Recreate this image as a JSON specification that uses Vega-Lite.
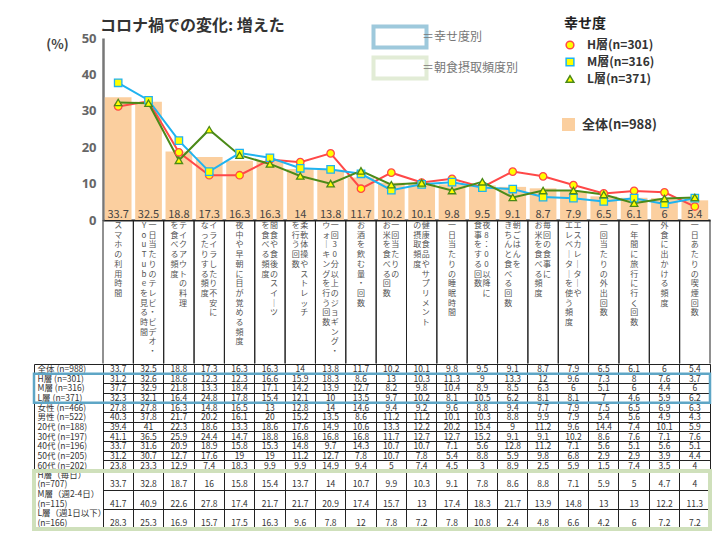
{
  "$schema": "https://vega.github.io/schema/vega-lite/v6.json",
  "padding": {"left": 31, "top": 17, "right": 0, "bottom": 0},
  "spacing": 0,
  "bounds": "flush",
  "datasets": {
    "tbl": [
      {"r":"全体 (n=988)","c":"スマホの利用時間","v":33.7},{"r":"全体 (n=988)","c":"一日当たりのテレビ・ビデオ・YouTubeを見る時間","v":32.5},{"r":"全体 (n=988)","c":"テイクアウトの料理を食べる頻度","v":18.8},{"r":"全体 (n=988)","c":"イライラしたり不安になったりする頻度","v":17.3},{"r":"全体 (n=988)","c":"夜中や早朝に目が覚める頻度","v":16.3},{"r":"全体 (n=988)","c":"間食や食後のスイーツを食べる頻度","v":16.3},{"r":"全体 (n=988)","c":"柔軟体操やストレッチを行う回数","v":14},{"r":"全体 (n=988)","c":"一回30分以上のジョギング・ウォーキングを行う回数","v":13.8},{"r":"全体 (n=988)","c":"お酒を飲む量・回数","v":11.7},{"r":"全体 (n=988)","c":"一回当たりのお米を食べる回数","v":10.2},{"r":"全体 (n=988)","c":"健康食品やサプリメントの摂取頻度","v":10.1},{"r":"全体 (n=988)","c":"一日当たりの睡眠時間","v":9.8},{"r":"全体 (n=988)","c":"夜8：00以降に食事をする回数","v":9.5},{"r":"全体 (n=988)","c":"朝ごはんをきちんと食べる回数","v":9.1},{"r":"全体 (n=988)","c":"毎回の食事にお米を食べる頻度","v":8.7},{"r":"全体 (n=988)","c":"エスカレーターやエレベーターを使う頻度","v":7.9},{"r":"全体 (n=988)","c":"一回当たりの外出回数","v":6.5},{"r":"全体 (n=988)","c":"一年間に旅行に行く回数","v":6.1},{"r":"全体 (n=988)","c":"外食に出かける頻度","v":6},{"r":"全体 (n=988)","c":"一日あたりの喫煙回数","v":5.4},
      {"r":"H層 (n=301)","c":"スマホの利用時間","v":31.2},{"r":"H層 (n=301)","c":"一日当たりのテレビ・ビデオ・YouTubeを見る時間","v":32.6},{"r":"H層 (n=301)","c":"テイクアウトの料理を食べる頻度","v":18.6},{"r":"H層 (n=301)","c":"イライラしたり不安になったりする頻度","v":12.3},{"r":"H層 (n=301)","c":"夜中や早朝に目が覚める頻度","v":12.3},{"r":"H層 (n=301)","c":"間食や食後のスイーツを食べる頻度","v":16.6},{"r":"H層 (n=301)","c":"柔軟体操やストレッチを行う回数","v":15.9},{"r":"H層 (n=301)","c":"一回30分以上のジョギング・ウォーキングを行う回数","v":18.3},{"r":"H層 (n=301)","c":"お酒を飲む量・回数","v":8.6},{"r":"H層 (n=301)","c":"一回当たりのお米を食べる回数","v":13},{"r":"H層 (n=301)","c":"健康食品やサプリメントの摂取頻度","v":10.3},{"r":"H層 (n=301)","c":"一日当たりの睡眠時間","v":11.3},{"r":"H層 (n=301)","c":"夜8：00以降に食事をする回数","v":9},{"r":"H層 (n=301)","c":"朝ごはんをきちんと食べる回数","v":13.3},{"r":"H層 (n=301)","c":"毎回の食事にお米を食べる頻度","v":12},{"r":"H層 (n=301)","c":"エスカレーターやエレベーターを使う頻度","v":9.6},{"r":"H層 (n=301)","c":"一回当たりの外出回数","v":7.3},{"r":"H層 (n=301)","c":"一年間に旅行に行く回数","v":8},{"r":"H層 (n=301)","c":"外食に出かける頻度","v":7.6},{"r":"H層 (n=301)","c":"一日あたりの喫煙回数","v":3.7},
      {"r":"M層 (n=316)","c":"スマホの利用時間","v":37.7},{"r":"M層 (n=316)","c":"一日当たりのテレビ・ビデオ・YouTubeを見る時間","v":32.9},{"r":"M層 (n=316)","c":"テイクアウトの料理を食べる頻度","v":21.8},{"r":"M層 (n=316)","c":"イライラしたり不安になったりする頻度","v":13.3},{"r":"M層 (n=316)","c":"夜中や早朝に目が覚める頻度","v":18.4},{"r":"M層 (n=316)","c":"間食や食後のスイーツを食べる頻度","v":17.1},{"r":"M層 (n=316)","c":"柔軟体操やストレッチを行う回数","v":14.2},{"r":"M層 (n=316)","c":"一回30分以上のジョギング・ウォーキングを行う回数","v":13.9},{"r":"M層 (n=316)","c":"お酒を飲む量・回数","v":12.7},{"r":"M層 (n=316)","c":"一回当たりのお米を食べる回数","v":8.2},{"r":"M層 (n=316)","c":"健康食品やサプリメントの摂取頻度","v":9.8},{"r":"M層 (n=316)","c":"一日当たりの睡眠時間","v":10.4},{"r":"M層 (n=316)","c":"夜8：00以降に食事をする回数","v":8.9},{"r":"M層 (n=316)","c":"朝ごはんをきちんと食べる回数","v":8.5},{"r":"M層 (n=316)","c":"毎回の食事にお米を食べる頻度","v":6.3},{"r":"M層 (n=316)","c":"エスカレーターやエレベーターを使う頻度","v":6},{"r":"M層 (n=316)","c":"一回当たりの外出回数","v":5.1},{"r":"M層 (n=316)","c":"一年間に旅行に行く回数","v":6},{"r":"M層 (n=316)","c":"外食に出かける頻度","v":4.4},{"r":"M層 (n=316)","c":"一日あたりの喫煙回数","v":6},
      {"r":"L層 (n=371)","c":"スマホの利用時間","v":32.3},{"r":"L層 (n=371)","c":"一日当たりのテレビ・ビデオ・YouTubeを見る時間","v":32.1},{"r":"L層 (n=371)","c":"テイクアウトの料理を食べる頻度","v":16.4},{"r":"L層 (n=371)","c":"イライラしたり不安になったりする頻度","v":24.8},{"r":"L層 (n=371)","c":"夜中や早朝に目が覚める頻度","v":17.8},{"r":"L層 (n=371)","c":"間食や食後のスイーツを食べる頻度","v":15.4},{"r":"L層 (n=371)","c":"柔軟体操やストレッチを行う回数","v":12.1},{"r":"L層 (n=371)","c":"一回30分以上のジョギング・ウォーキングを行う回数","v":10},{"r":"L層 (n=371)","c":"お酒を飲む量・回数","v":13.5},{"r":"L層 (n=371)","c":"一回当たりのお米を食べる回数","v":9.7},{"r":"L層 (n=371)","c":"健康食品やサプリメントの摂取頻度","v":10.2},{"r":"L層 (n=371)","c":"一日当たりの睡眠時間","v":8.1},{"r":"L層 (n=371)","c":"夜8：00以降に食事をする回数","v":10.5},{"r":"L層 (n=371)","c":"朝ごはんをきちんと食べる回数","v":6.2},{"r":"L層 (n=371)","c":"毎回の食事にお米を食べる頻度","v":8.1},{"r":"L層 (n=371)","c":"エスカレーターやエレベーターを使う頻度","v":8.1},{"r":"L層 (n=371)","c":"一回当たりの外出回数","v":7},{"r":"L層 (n=371)","c":"一年間に旅行に行く回数","v":4.6},{"r":"L層 (n=371)","c":"外食に出かける頻度","v":5.9},{"r":"L層 (n=371)","c":"一日あたりの喫煙回数","v":6.2},
      {"r":"女性 (n=466)","c":"スマホの利用時間","v":27.8},{"r":"女性 (n=466)","c":"一日当たりのテレビ・ビデオ・YouTubeを見る時間","v":27.8},{"r":"女性 (n=466)","c":"テイクアウトの料理を食べる頻度","v":16.3},{"r":"女性 (n=466)","c":"イライラしたり不安になったりする頻度","v":14.8},{"r":"女性 (n=466)","c":"夜中や早朝に目が覚める頻度","v":16.5},{"r":"女性 (n=466)","c":"間食や食後のスイーツを食べる頻度","v":13},{"r":"女性 (n=466)","c":"柔軟体操やストレッチを行う回数","v":12.8},{"r":"女性 (n=466)","c":"一回30分以上のジョギング・ウォーキングを行う回数","v":14},{"r":"女性 (n=466)","c":"お酒を飲む量・回数","v":14.6},{"r":"女性 (n=466)","c":"一回当たりのお米を食べる回数","v":9.4},{"r":"女性 (n=466)","c":"健康食品やサプリメントの摂取頻度","v":9.2},{"r":"女性 (n=466)","c":"一日当たりの睡眠時間","v":9.6},{"r":"女性 (n=466)","c":"夜8：00以降に食事をする回数","v":8.8},{"r":"女性 (n=466)","c":"朝ごはんをきちんと食べる回数","v":9.4},{"r":"女性 (n=466)","c":"毎回の食事にお米を食べる頻度","v":7.7},{"r":"女性 (n=466)","c":"エスカレーターやエレベーターを使う頻度","v":7.9},{"r":"女性 (n=466)","c":"一回当たりの外出回数","v":7.5},{"r":"女性 (n=466)","c":"一年間に旅行に行く回数","v":6.5},{"r":"女性 (n=466)","c":"外食に出かける頻度","v":6.9},{"r":"女性 (n=466)","c":"一日あたりの喫煙回数","v":6.3},
      {"r":"男性 (n=522)","c":"スマホの利用時間","v":40.3},{"r":"男性 (n=522)","c":"一日当たりのテレビ・ビデオ・YouTubeを見る時間","v":37.8},{"r":"男性 (n=522)","c":"テイクアウトの料理を食べる頻度","v":21.7},{"r":"男性 (n=522)","c":"イライラしたり不安になったりする頻度","v":20.2},{"r":"男性 (n=522)","c":"夜中や早朝に目が覚める頻度","v":16.1},{"r":"男性 (n=522)","c":"間食や食後のスイーツを食べる頻度","v":20},{"r":"男性 (n=522)","c":"柔軟体操やストレッチを行う回数","v":15.2},{"r":"男性 (n=522)","c":"一回30分以上のジョギング・ウォーキングを行う回数","v":13.5},{"r":"男性 (n=522)","c":"お酒を飲む量・回数","v":8.6},{"r":"男性 (n=522)","c":"一回当たりのお米を食べる回数","v":11.2},{"r":"男性 (n=522)","c":"健康食品やサプリメントの摂取頻度","v":11.2},{"r":"男性 (n=522)","c":"一日当たりの睡眠時間","v":10.1},{"r":"男性 (n=522)","c":"夜8：00以降に食事をする回数","v":10.3},{"r":"男性 (n=522)","c":"朝ごはんをきちんと食べる回数","v":8.8},{"r":"男性 (n=522)","c":"毎回の食事にお米を食べる頻度","v":9.9},{"r":"男性 (n=522)","c":"エスカレーターやエレベーターを使う頻度","v":7.9},{"r":"男性 (n=522)","c":"一回当たりの外出回数","v":5.4},{"r":"男性 (n=522)","c":"一年間に旅行に行く回数","v":5.6},{"r":"男性 (n=522)","c":"外食に出かける頻度","v":4.9},{"r":"男性 (n=522)","c":"一日あたりの喫煙回数","v":4.3},
      {"r":"20代 (n=188)","c":"スマホの利用時間","v":39.4},{"r":"20代 (n=188)","c":"一日当たりのテレビ・ビデオ・YouTubeを見る時間","v":41},{"r":"20代 (n=188)","c":"テイクアウトの料理を食べる頻度","v":22.3},{"r":"20代 (n=188)","c":"イライラしたり不安になったりする頻度","v":18.6},{"r":"20代 (n=188)","c":"夜中や早朝に目が覚める頻度","v":13.3},{"r":"20代 (n=188)","c":"間食や食後のスイーツを食べる頻度","v":18.6},{"r":"20代 (n=188)","c":"柔軟体操やストレッチを行う回数","v":17.6},{"r":"20代 (n=188)","c":"一回30分以上のジョギング・ウォーキングを行う回数","v":14.9},{"r":"20代 (n=188)","c":"お酒を飲む量・回数","v":10.6},{"r":"20代 (n=188)","c":"一回当たりのお米を食べる回数","v":13.3},{"r":"20代 (n=188)","c":"健康食品やサプリメントの摂取頻度","v":12.2},{"r":"20代 (n=188)","c":"一日当たりの睡眠時間","v":20.2},{"r":"20代 (n=188)","c":"夜8：00以降に食事をする回数","v":15.4},{"r":"20代 (n=188)","c":"朝ごはんをきちんと食べる回数","v":9},{"r":"20代 (n=188)","c":"毎回の食事にお米を食べる頻度","v":11.2},{"r":"20代 (n=188)","c":"エスカレーターやエレベーターを使う頻度","v":9.6},{"r":"20代 (n=188)","c":"一回当たりの外出回数","v":14.4},{"r":"20代 (n=188)","c":"一年間に旅行に行く回数","v":7.4},{"r":"20代 (n=188)","c":"外食に出かける頻度","v":10.1},{"r":"20代 (n=188)","c":"一日あたりの喫煙回数","v":5.9},
      {"r":"30代 (n=197)","c":"スマホの利用時間","v":41.1},{"r":"30代 (n=197)","c":"一日当たりのテレビ・ビデオ・YouTubeを見る時間","v":36.5},{"r":"30代 (n=197)","c":"テイクアウトの料理を食べる頻度","v":25.9},{"r":"30代 (n=197)","c":"イライラしたり不安になったりする頻度","v":24.4},{"r":"30代 (n=197)","c":"夜中や早朝に目が覚める頻度","v":14.7},{"r":"30代 (n=197)","c":"間食や食後のスイーツを食べる頻度","v":18.8},{"r":"30代 (n=197)","c":"柔軟体操やストレッチを行う回数","v":16.8},{"r":"30代 (n=197)","c":"一回30分以上のジョギング・ウォーキングを行う回数","v":16.8},{"r":"30代 (n=197)","c":"お酒を飲む量・回数","v":16.8},{"r":"30代 (n=197)","c":"一回当たりのお米を食べる回数","v":11.7},{"r":"30代 (n=197)","c":"健康食品やサプリメントの摂取頻度","v":12.7},{"r":"30代 (n=197)","c":"一日当たりの睡眠時間","v":12.7},{"r":"30代 (n=197)","c":"夜8：00以降に食事をする回数","v":15.2},{"r":"30代 (n=197)","c":"朝ごはんをきちんと食べる回数","v":9.1},{"r":"30代 (n=197)","c":"毎回の食事にお米を食べる頻度","v":9.1},{"r":"30代 (n=197)","c":"エスカレーターやエレベーターを使う頻度","v":10.2},{"r":"30代 (n=197)","c":"一回当たりの外出回数","v":8.6},{"r":"30代 (n=197)","c":"一年間に旅行に行く回数","v":7.6},{"r":"30代 (n=197)","c":"外食に出かける頻度","v":7.1},{"r":"30代 (n=197)","c":"一日あたりの喫煙回数","v":7.6},
      {"r":"40代 (n=196)","c":"スマホの利用時間","v":33.7},{"r":"40代 (n=196)","c":"一日当たりのテレビ・ビデオ・YouTubeを見る時間","v":31.6},{"r":"40代 (n=196)","c":"テイクアウトの料理を食べる頻度","v":20.9},{"r":"40代 (n=196)","c":"イライラしたり不安になったりする頻度","v":18.9},{"r":"40代 (n=196)","c":"夜中や早朝に目が覚める頻度","v":15.8},{"r":"40代 (n=196)","c":"間食や食後のスイーツを食べる頻度","v":15.3},{"r":"40代 (n=196)","c":"柔軟体操やストレッチを行う回数","v":14.8},{"r":"40代 (n=196)","c":"一回30分以上のジョギング・ウォーキングを行う回数","v":9.7},{"r":"40代 (n=196)","c":"お酒を飲む量・回数","v":14.3},{"r":"40代 (n=196)","c":"一回当たりのお米を食べる回数","v":10.7},{"r":"40代 (n=196)","c":"健康食品やサプリメントの摂取頻度","v":10.7},{"r":"40代 (n=196)","c":"一日当たりの睡眠時間","v":7.1},{"r":"40代 (n=196)","c":"夜8：00以降に食事をする回数","v":5.6},{"r":"40代 (n=196)","c":"朝ごはんをきちんと食べる回数","v":12.8},{"r":"40代 (n=196)","c":"毎回の食事にお米を食べる頻度","v":11.2},{"r":"40代 (n=196)","c":"エスカレーターやエレベーターを使う頻度","v":7.1},{"r":"40代 (n=196)","c":"一回当たりの外出回数","v":5.6},{"r":"40代 (n=196)","c":"一年間に旅行に行く回数","v":5.1},{"r":"40代 (n=196)","c":"外食に出かける頻度","v":5.6},{"r":"40代 (n=196)","c":"一日あたりの喫煙回数","v":5.1},
      {"r":"50代 (n=205)","c":"スマホの利用時間","v":31.2},{"r":"50代 (n=205)","c":"一日当たりのテレビ・ビデオ・YouTubeを見る時間","v":30.7},{"r":"50代 (n=205)","c":"テイクアウトの料理を食べる頻度","v":12.7},{"r":"50代 (n=205)","c":"イライラしたり不安になったりする頻度","v":17.6},{"r":"50代 (n=205)","c":"夜中や早朝に目が覚める頻度","v":19},{"r":"50代 (n=205)","c":"間食や食後のスイーツを食べる頻度","v":19},{"r":"50代 (n=205)","c":"柔軟体操やストレッチを行う回数","v":11.2},{"r":"50代 (n=205)","c":"一回30分以上のジョギング・ウォーキングを行う回数","v":12.7},{"r":"50代 (n=205)","c":"お酒を飲む量・回数","v":7.8},{"r":"50代 (n=205)","c":"一回当たりのお米を食べる回数","v":10.7},{"r":"50代 (n=205)","c":"健康食品やサプリメントの摂取頻度","v":7.8},{"r":"50代 (n=205)","c":"一日当たりの睡眠時間","v":5.4},{"r":"50代 (n=205)","c":"夜8：00以降に食事をする回数","v":8.8},{"r":"50代 (n=205)","c":"朝ごはんをきちんと食べる回数","v":5.9},{"r":"50代 (n=205)","c":"毎回の食事にお米を食べる頻度","v":9.8},{"r":"50代 (n=205)","c":"エスカレーターやエレベーターを使う頻度","v":6.8},{"r":"50代 (n=205)","c":"一回当たりの外出回数","v":2.9},{"r":"50代 (n=205)","c":"一年間に旅行に行く回数","v":2.9},{"r":"50代 (n=205)","c":"外食に出かける頻度","v":3.9},{"r":"50代 (n=205)","c":"一日あたりの喫煙回数","v":4.4},
      {"r":"60代 (n=202)","c":"スマホの利用時間","v":23.8},{"r":"60代 (n=202)","c":"一日当たりのテレビ・ビデオ・YouTubeを見る時間","v":23.3},{"r":"60代 (n=202)","c":"テイクアウトの料理を食べる頻度","v":12.9},{"r":"60代 (n=202)","c":"イライラしたり不安になったりする頻度","v":7.4},{"r":"60代 (n=202)","c":"夜中や早朝に目が覚める頻度","v":18.3},{"r":"60代 (n=202)","c":"間食や食後のスイーツを食べる頻度","v":9.9},{"r":"60代 (n=202)","c":"柔軟体操やストレッチを行う回数","v":9.9},{"r":"60代 (n=202)","c":"一回30分以上のジョギング・ウォーキングを行う回数","v":14.9},{"r":"60代 (n=202)","c":"お酒を飲む量・回数","v":9.4},{"r":"60代 (n=202)","c":"一回当たりのお米を食べる回数","v":5},{"r":"60代 (n=202)","c":"健康食品やサプリメントの摂取頻度","v":7.4},{"r":"60代 (n=202)","c":"一日当たりの睡眠時間","v":4.5},{"r":"60代 (n=202)","c":"夜8：00以降に食事をする回数","v":3},{"r":"60代 (n=202)","c":"朝ごはんをきちんと食べる回数","v":8.9},{"r":"60代 (n=202)","c":"毎回の食事にお米を食べる頻度","v":2.5},{"r":"60代 (n=202)","c":"エスカレーターやエレベーターを使う頻度","v":5.9},{"r":"60代 (n=202)","c":"一回当たりの外出回数","v":1.5},{"r":"60代 (n=202)","c":"一年間に旅行に行く回数","v":7.4},{"r":"60代 (n=202)","c":"外食に出かける頻度","v":3.5},{"r":"60代 (n=202)","c":"一日あたりの喫煙回数","v":4},
      {"r":"H層（毎日）(n=707)","c":"スマホの利用時間","v":33.7},{"r":"H層（毎日）(n=707)","c":"一日当たりのテレビ・ビデオ・YouTubeを見る時間","v":32.8},{"r":"H層（毎日）(n=707)","c":"テイクアウトの料理を食べる頻度","v":18.7},{"r":"H層（毎日）(n=707)","c":"イライラしたり不安になったりする頻度","v":16},{"r":"H層（毎日）(n=707)","c":"夜中や早朝に目が覚める頻度","v":15.8},{"r":"H層（毎日）(n=707)","c":"間食や食後のスイーツを食べる頻度","v":15.4},{"r":"H層（毎日）(n=707)","c":"柔軟体操やストレッチを行う回数","v":13.7},{"r":"H層（毎日）(n=707)","c":"一回30分以上のジョギング・ウォーキングを行う回数","v":14},{"r":"H層（毎日）(n=707)","c":"お酒を飲む量・回数","v":10.7},{"r":"H層（毎日）(n=707)","c":"一回当たりのお米を食べる回数","v":9.9},{"r":"H層（毎日）(n=707)","c":"健康食品やサプリメントの摂取頻度","v":10.3},{"r":"H層（毎日）(n=707)","c":"一日当たりの睡眠時間","v":9.1},{"r":"H層（毎日）(n=707)","c":"夜8：00以降に食事をする回数","v":7.8},{"r":"H層（毎日）(n=707)","c":"朝ごはんをきちんと食べる回数","v":8.6},{"r":"H層（毎日）(n=707)","c":"毎回の食事にお米を食べる頻度","v":8.8},{"r":"H層（毎日）(n=707)","c":"エスカレーターやエレベーターを使う頻度","v":7.1},{"r":"H層（毎日）(n=707)","c":"一回当たりの外出回数","v":5.9},{"r":"H層（毎日）(n=707)","c":"一年間に旅行に行く回数","v":5},{"r":"H層（毎日）(n=707)","c":"外食に出かける頻度","v":4.7},{"r":"H層（毎日）(n=707)","c":"一日あたりの喫煙回数","v":4},
      {"r":"M層（週2-4日）(n=115)","c":"スマホの利用時間","v":41.7},{"r":"M層（週2-4日）(n=115)","c":"一日当たりのテレビ・ビデオ・YouTubeを見る時間","v":40.9},{"r":"M層（週2-4日）(n=115)","c":"テイクアウトの料理を食べる頻度","v":22.6},{"r":"M層（週2-4日）(n=115)","c":"イライラしたり不安になったりする頻度","v":27.8},{"r":"M層（週2-4日）(n=115)","c":"夜中や早朝に目が覚める頻度","v":17.4},{"r":"M層（週2-4日）(n=115)","c":"間食や食後のスイーツを食べる頻度","v":21.7},{"r":"M層（週2-4日）(n=115)","c":"柔軟体操やストレッチを行う回数","v":21.7},{"r":"M層（週2-4日）(n=115)","c":"一回30分以上のジョギング・ウォーキングを行う回数","v":20.9},{"r":"M層（週2-4日）(n=115)","c":"お酒を飲む量・回数","v":17.4},{"r":"M層（週2-4日）(n=115)","c":"一回当たりのお米を食べる回数","v":15.7},{"r":"M層（週2-4日）(n=115)","c":"健康食品やサプリメントの摂取頻度","v":13},{"r":"M層（週2-4日）(n=115)","c":"一日当たりの睡眠時間","v":17.4},{"r":"M層（週2-4日）(n=115)","c":"夜8：00以降に食事をする回数","v":18.3},{"r":"M層（週2-4日）(n=115)","c":"朝ごはんをきちんと食べる回数","v":21.7},{"r":"M層（週2-4日）(n=115)","c":"毎回の食事にお米を食べる頻度","v":13.9},{"r":"M層（週2-4日）(n=115)","c":"エスカレーターやエレベーターを使う頻度","v":14.8},{"r":"M層（週2-4日）(n=115)","c":"一回当たりの外出回数","v":13},{"r":"M層（週2-4日）(n=115)","c":"一年間に旅行に行く回数","v":13},{"r":"M層（週2-4日）(n=115)","c":"外食に出かける頻度","v":12.2},{"r":"M層（週2-4日）(n=115)","c":"一日あたりの喫煙回数","v":11.3},
      {"r":"L層（週1日以下）(n=166)","c":"スマホの利用時間","v":28.3},{"r":"L層（週1日以下）(n=166)","c":"一日当たりのテレビ・ビデオ・YouTubeを見る時間","v":25.3},{"r":"L層（週1日以下）(n=166)","c":"テイクアウトの料理を食べる頻度","v":16.9},{"r":"L層（週1日以下）(n=166)","c":"イライラしたり不安になったりする頻度","v":15.7},{"r":"L層（週1日以下）(n=166)","c":"夜中や早朝に目が覚める頻度","v":17.5},{"r":"L層（週1日以下）(n=166)","c":"間食や食後のスイーツを食べる頻度","v":16.3},{"r":"L層（週1日以下）(n=166)","c":"柔軟体操やストレッチを行う回数","v":9.6},{"r":"L層（週1日以下）(n=166)","c":"一回30分以上のジョギング・ウォーキングを行う回数","v":7.8},{"r":"L層（週1日以下）(n=166)","c":"お酒を飲む量・回数","v":12},{"r":"L層（週1日以下）(n=166)","c":"一回当たりのお米を食べる回数","v":7.8},{"r":"L層（週1日以下）(n=166)","c":"健康食品やサプリメントの摂取頻度","v":7.2},{"r":"L層（週1日以下）(n=166)","c":"一日当たりの睡眠時間","v":7.8},{"r":"L層（週1日以下）(n=166)","c":"夜8：00以降に食事をする回数","v":10.8},{"r":"L層（週1日以下）(n=166)","c":"朝ごはんをきちんと食べる回数","v":2.4},{"r":"L層（週1日以下）(n=166)","c":"毎回の食事にお米を食べる頻度","v":4.8},{"r":"L層（週1日以下）(n=166)","c":"エスカレーターやエレベーターを使う頻度","v":6.6},{"r":"L層（週1日以下）(n=166)","c":"一回当たりの外出回数","v":4.2},{"r":"L層（週1日以下）(n=166)","c":"一年間に旅行に行く回数","v":6},{"r":"L層（週1日以下）(n=166)","c":"外食に出かける頻度","v":7.2},{"r":"L層（週1日以下）(n=166)","c":"一日あたりの喫煙回数","v":7.2}
    ],
    "labels": [
      {"c":"スマホの利用時間","right":"スマホの利用時間","left":""},
      {"c":"一日当たりのテレビ・ビデオ・YouTubeを見る時間","right":"一日当たりのテレビ・ビデオ・","left":"YouTubeを見る時間"},
      {"c":"テイクアウトの料理を食べる頻度","right":"テイクアウトの料理","left":"を食べる頻度"},
      {"c":"イライラしたり不安になったりする頻度","right":"イライラしたり不安に","left":"なったりする頻度"},
      {"c":"夜中や早朝に目が覚める頻度","right":"夜中や早朝に目が覚める頻度","left":""},
      {"c":"間食や食後のスイーツを食べる頻度","right":"間食や食後のスイーツ","left":"を食べる頻度"},
      {"c":"柔軟体操やストレッチを行う回数","right":"柔軟体操やストレッチ","left":"を行う回数"},
      {"c":"一回30分以上のジョギング・ウォーキングを行う回数","right":"一回30分以上のジョギング・","left":"ウォーキングを行う回数"},
      {"c":"お酒を飲む量・回数","right":"お酒を飲む量・回数","left":""},
      {"c":"一回当たりのお米を食べる回数","right":"一回当たりの","left":"お米を食べる回数"},
      {"c":"健康食品やサプリメントの摂取頻度","right":"健康食品やサプリメント","left":"の摂取頻度"},
      {"c":"一日当たりの睡眠時間","right":"一日当たりの睡眠時間","left":""},
      {"c":"夜8：00以降に食事をする回数","right":"夜8：00以降に","left":"食事をする回数"},
      {"c":"朝ごはんをきちんと食べる回数","right":"朝ごはんを","left":"きちんと食べる回数"},
      {"c":"毎回の食事にお米を食べる頻度","right":"毎回の食事に","left":"お米を食べる頻度"},
      {"c":"エスカレーターやエレベーターを使う頻度","right":"エスカレーターや","left":"エレベーターを使う頻度"},
      {"c":"一回当たりの外出回数","right":"一回当たりの外出回数","left":""},
      {"c":"一年間に旅行に行く回数","right":"一年間に旅行に行く回数","left":""},
      {"c":"外食に出かける頻度","right":"外食に出かける頻度","left":""},
      {"c":"一日あたりの喫煙回数","right":"一日あたりの喫煙回数","left":""}
    ]
  },
  "vconcat": [
    {
      "width": 676,
      "height": 182,
      "title": {"text": "コロナ禍での変化: 増えた", "anchor": "start", "frame": "group", "dx": 66, "offset": -2, "fontSize": 16, "fontWeight": "bold", "color": "#333"},
      "data": {"name": "tbl"},
      "encoding": {
        "x": {"field": "c", "type": "nominal", "scale": {"type": "band", "domain": ["スマホの利用時間","一日当たりのテレビ・ビデオ・YouTubeを見る時間","テイクアウトの料理を食べる頻度","イライラしたり不安になったりする頻度","夜中や早朝に目が覚める頻度","間食や食後のスイーツを食べる頻度","柔軟体操やストレッチを行う回数","一回30分以上のジョギング・ウォーキングを行う回数","お酒を飲む量・回数","一回当たりのお米を食べる回数","健康食品やサプリメントの摂取頻度","一日当たりの睡眠時間","夜8：00以降に食事をする回数","朝ごはんをきちんと食べる回数","毎回の食事にお米を食べる頻度","エスカレーターやエレベーターを使う頻度","一回当たりの外出回数","一年間に旅行に行く回数","外食に出かける頻度","一日あたりの喫煙回数"], "range": [69, 676], "paddingInner": 0, "paddingOuter": 0},
          "axis": {"title": null, "labels": false, "ticks": false, "grid": false, "domainColor": "#222", "domainWidth": 2}},
        "y": {"field": "v", "type": "quantitative", "scale": {"domain": [0, 50], "nice": false},
          "axis": {"values": [0, 10, 20, 30, 40, 50], "offset": -69, "ticks": false, "grid": false, "domainColor": "#777", "domainWidth": 2.5, "labelFont": "Noto Sans", "labelFontSize": 13, "labelFontWeight": "bold", "labelColor": "#666", "labelPadding": 7, "labelOverlap": false, "labelSeparation": 0, "labelBound": false, "labelFlush": false, "title": "(%)", "titleAngle": 0, "titleX": -46, "titleY": 6, "titleAlign": "center", "titleBaseline": "middle", "titleFontSize": 13, "titleFontWeight": "bold", "titleColor": "#444"}}
      },
      "layer": [
        {
          "transform": [{"filter": "datum.r === '全体 (n=988)'"}],
          "mark": {"type": "bar", "width": {"band": 0.88}},
          "encoding": {
            "fill": {"field": "r", "type": "nominal", "scale": {"range": ["#FBCF9F"]},
              "legend": {"title": null, "orient": "none", "legendX": 528, "legendY": 80, "labelExpr": "replace(datum.label, ' ', '')", "symbolType": "square", "symbolSize": 169, "symbolStrokeWidth": 0, "labelFontSize": 13, "labelFontWeight": "bold", "labelColor": "#333", "labelOffset": 7, "padding": 0}}
          }
        },
        {
          "transform": [{"filter": "datum.r === '全体 (n=988)'"}],
          "mark": {"type": "text", "baseline": "alphabetic", "dy": -2, "fontSize": 11, "color": "#444"},
          "encoding": {
            "y": {"datum": 0, "type": "quantitative",
              "axis": {"values": [0, 10, 20, 30, 40, 50], "offset": -69, "ticks": false, "grid": false, "domainColor": "#777", "domainWidth": 2.5, "labelFont": "Noto Sans", "labelFontSize": 13, "labelFontWeight": "bold", "labelColor": "#666", "labelPadding": 7, "labelOverlap": false, "labelSeparation": 0, "labelBound": false, "labelFlush": false, "title": "(%)", "titleAngle": 0, "titleX": -46, "titleY": 6, "titleAlign": "center", "titleBaseline": "middle", "titleFontSize": 13, "titleFontWeight": "bold", "titleColor": "#444"}},
            "text": {"field": "v", "type": "quantitative"}
          }
        },
        {
          "transform": [{"filter": {"field": "r", "oneOf": ["H層 (n=301)", "M層 (n=316)", "L層 (n=371)"]}}],
          "mark": {"type": "line", "strokeWidth": 2},
          "encoding": {
            "color": {"field": "r", "type": "nominal", "scale": {"domain": ["H層 (n=301)", "M層 (n=316)", "L層 (n=371)"], "range": ["#FF4848", "#1FB3F0", "#4B8A18"]},
              "legend": {"title": "幸せ度", "orient": "none", "legendX": 530, "legendY": -21, "labelExpr": "replace(datum.label, ' ', '')", "titleFontSize": 14, "titleFontWeight": "bold", "titleColor": "#222", "titlePadding": 8, "labelFontSize": 12, "labelFontWeight": "bold", "labelColor": "#333", "labelOffset": 11, "rowPadding": 3, "symbolFillColor": "#FFFF00", "symbolStrokeWidth": 1.5, "symbolSize": 60, "padding": 0}}
          }
        },
        {
          "transform": [{"filter": {"field": "r", "oneOf": ["H層 (n=301)", "M層 (n=316)", "L層 (n=371)"]}}],
          "mark": {"type": "point", "filled": false, "fill": "#FFFF00", "fillOpacity": 1, "opacity": 1, "strokeWidth": 1.3, "size": 55},
          "encoding": {
            "color": {"field": "r", "type": "nominal",
              "legend": {"title": "幸せ度", "orient": "none", "legendX": 530, "legendY": -21, "labelExpr": "replace(datum.label, ' ', '')", "titleFontSize": 14, "titleFontWeight": "bold", "titleColor": "#222", "titlePadding": 8, "labelFontSize": 12, "labelFontWeight": "bold", "labelColor": "#333", "labelOffset": 11, "rowPadding": 3, "symbolFillColor": "#FFFF00", "symbolStrokeWidth": 1.5, "symbolSize": 60, "padding": 0}},
            "shape": {"field": "r", "type": "nominal", "scale": {"domain": ["H層 (n=301)", "M層 (n=316)", "L層 (n=371)"], "range": ["circle", "square", "triangle-up"]},
              "legend": {"title": "幸せ度", "orient": "none", "legendX": 530, "legendY": -21, "labelExpr": "replace(datum.label, ' ', '')", "titleFontSize": 14, "titleFontWeight": "bold", "titleColor": "#222", "titlePadding": 8, "labelFontSize": 12, "labelFontWeight": "bold", "labelColor": "#333", "labelOffset": 11, "rowPadding": 3, "symbolFillColor": "#FFFF00", "symbolStrokeWidth": 1.5, "symbolSize": 60, "padding": 0}}
          }
        }
      ]
    },
    {
      "width": 676,
      "height": 143.5,
      "data": {"name": "labels"},
      "transform": [
        {"calculate": "split(replace(datum.right, regexp('ー', 'g'), '｜'), '')", "as": "rt"},
        {"calculate": "split(replace(datum.left, regexp('ー', 'g'), '｜'), '')", "as": "lt"}
      ],
      "layer": [
        {
          "mark": {"type": "rule", "color": "#222", "strokeWidth": 1},
          "encoding": {
            "x": {"field": "c", "type": "nominal", "bandPosition": 0, "axis": null,
              "scale": {"type": "band", "domain": ["スマホの利用時間","一日当たりのテレビ・ビデオ・YouTubeを見る時間","テイクアウトの料理を食べる頻度","イライラしたり不安になったりする頻度","夜中や早朝に目が覚める頻度","間食や食後のスイーツを食べる頻度","柔軟体操やストレッチを行う回数","一回30分以上のジョギング・ウォーキングを行う回数","お酒を飲む量・回数","一回当たりのお米を食べる回数","健康食品やサプリメントの摂取頻度","一日当たりの睡眠時間","夜8：00以降に食事をする回数","朝ごはんをきちんと食べる回数","毎回の食事にお米を食べる頻度","エスカレーターやエレベーターを使う頻度","一回当たりの外出回数","一年間に旅行に行く回数","外食に出かける頻度","一日あたりの喫煙回数"], "range": [69, 676], "paddingInner": 0, "paddingOuter": 0}}
          }
        },
        {
          "mark": {"type": "rule", "color": "#222", "strokeWidth": 1},
          "encoding": {"x": {"field": "c", "type": "nominal", "bandPosition": 1}}
        },
        {
          "transform": [{"filter": "datum.left === ''"}],
          "mark": {"type": "text", "baseline": "top", "align": "center", "fontSize": 8, "lineHeight": 9.7, "lineBreak": "\n", "dy": 2, "color": "#555"},
          "encoding": {
            "x": {"field": "c", "type": "nominal"},
            "y": {"datum": 1, "type": "quantitative", "scale": {"domain": [0, 1]}, "axis": null},
            "text": {"field": "rt", "type": "nominal"}
          }
        },
        {
          "transform": [{"filter": "datum.left !== ''"}],
          "mark": {"type": "text", "baseline": "top", "align": "center", "fontSize": 8, "lineHeight": 9.7, "lineBreak": "\n", "dy": 2, "dx": 4, "color": "#555"},
          "encoding": {
            "x": {"field": "c", "type": "nominal"},
            "y": {"datum": 1, "type": "quantitative"},
            "text": {"field": "rt", "type": "nominal"}
          }
        },
        {
          "transform": [{"filter": "datum.left !== ''"}],
          "mark": {"type": "text", "baseline": "top", "align": "center", "fontSize": 8, "lineHeight": 9.7, "lineBreak": "\n", "dy": 2, "dx": -4.5, "color": "#555"},
          "encoding": {
            "x": {"field": "c", "type": "nominal"},
            "y": {"datum": 1, "type": "quantitative"},
            "text": {"field": "lt", "type": "nominal"}
          }
        }
      ]
    },
    {
      "width": 676,
      "height": 106.5,
      "view": {"stroke": "#222", "strokeWidth": 1},
      "layer": [
        {
          "data": {"name": "tbl"},
          "transform": [{"filter": {"field": "r", "oneOf": ["全体 (n=988)","H層 (n=301)","M層 (n=316)","L層 (n=371)","女性 (n=466)","男性 (n=522)","20代 (n=188)","30代 (n=197)","40代 (n=196)","50代 (n=205)","60代 (n=202)"]}}],
          "mark": {"type": "text", "fontSize": 8.5, "color": "#333", "baseline": "middle"},
          "encoding": {
            "x": {"field": "c", "type": "nominal",
              "scale": {"type": "band", "domain": ["スマホの利用時間","一日当たりのテレビ・ビデオ・YouTubeを見る時間","テイクアウトの料理を食べる頻度","イライラしたり不安になったりする頻度","夜中や早朝に目が覚める頻度","間食や食後のスイーツを食べる頻度","柔軟体操やストレッチを行う回数","一回30分以上のジョギング・ウォーキングを行う回数","お酒を飲む量・回数","一回当たりのお米を食べる回数","健康食品やサプリメントの摂取頻度","一日当たりの睡眠時間","夜8：00以降に食事をする回数","朝ごはんをきちんと食べる回数","毎回の食事にお米を食べる頻度","エスカレーターやエレベーターを使う頻度","一回当たりの外出回数","一年間に旅行に行く回数","外食に出かける頻度","一日あたりの喫煙回数"], "range": [69, 676], "paddingInner": 0, "paddingOuter": 0},
              "axis": {"orient": "top", "title": null, "labels": false, "ticks": false, "domain": false, "grid": true, "gridColor": "#222", "gridWidth": 1, "bandPosition": 0}},
            "y": {"field": "r", "type": "nominal",
              "scale": {"type": "band", "domain": ["全体 (n=988)","H層 (n=301)","M層 (n=316)","L層 (n=371)","女性 (n=466)","男性 (n=522)","20代 (n=188)","30代 (n=197)","40代 (n=196)","50代 (n=205)","60代 (n=202)"], "paddingInner": 0, "paddingOuter": 0},
              "axis": {"title": null, "domain": false, "ticks": false, "grid": true, "gridColor": "#222", "gridWidth": 1, "bandPosition": 0, "labelOffset": 0, "labelAlign": "left", "labelBaseline": "middle", "labelPadding": -3, "labelFontSize": 8.5, "labelColor": "#333", "labelBound": false, "labelOverlap": false, "labelFlush": false}},
            "text": {"field": "v", "type": "quantitative"}
          }
        },
        {
          "data": {"values": [{"g": "＝幸せ度別", "from": "H層 (n=301)", "to": "L層 (n=371)"}]},
          "mark": {"type": "rect", "fill": "#ffffff", "fillOpacity": 0, "strokeWidth": 2.5},
          "encoding": {
            "y": {"field": "from", "type": "nominal", "bandPosition": 0},
            "y2": {"field": "to", "bandPosition": 1},
            "stroke": {"field": "g", "type": "nominal", "scale": {"domain": ["＝幸せ度別", "＝朝食摂取頻度別"], "range": ["#5EA6C6", "#CFE0BB"]},
              "legend": {"title": null, "orient": "none", "legendX": 354, "legendY": -13, "symbolType": "M-2.65,-1.05H2.65V1.05H-2.65Z", "symbolSize": 400, "symbolStrokeWidth": 4, "symbolFillColor": "#ffffff", "symbolOpacity": 0.6, "labelFontSize": 12, "labelColor": "#777", "labelOffset": 10, "rowPadding": -12.5, "padding": 0}}
          }
        }
      ]
    },
    {
      "width": 676,
      "height": 58,
      "view": {"stroke": "#222", "strokeWidth": 1},
      "layer": [
        {
          "data": {"name": "tbl"},
          "transform": [{"filter": {"field": "r", "oneOf": ["H層（毎日）(n=707)","M層（週2-4日）(n=115)","L層（週1日以下）(n=166)"]}}],
          "mark": {"type": "text", "fontSize": 8.5, "color": "#333", "baseline": "middle", "dy": 3.5},
          "encoding": {
            "x": {"field": "c", "type": "nominal",
              "scale": {"type": "band", "domain": ["スマホの利用時間","一日当たりのテレビ・ビデオ・YouTubeを見る時間","テイクアウトの料理を食べる頻度","イライラしたり不安になったりする頻度","夜中や早朝に目が覚める頻度","間食や食後のスイーツを食べる頻度","柔軟体操やストレッチを行う回数","一回30分以上のジョギング・ウォーキングを行う回数","お酒を飲む量・回数","一回当たりのお米を食べる回数","健康食品やサプリメントの摂取頻度","一日当たりの睡眠時間","夜8：00以降に食事をする回数","朝ごはんをきちんと食べる回数","毎回の食事にお米を食べる頻度","エスカレーターやエレベーターを使う頻度","一回当たりの外出回数","一年間に旅行に行く回数","外食に出かける頻度","一日あたりの喫煙回数"], "range": [69, 676], "paddingInner": 0, "paddingOuter": 0},
              "axis": {"orient": "top", "title": null, "labels": false, "ticks": false, "domain": false, "grid": true, "gridColor": "#222", "gridWidth": 1, "bandPosition": 0}},
            "y": {"field": "r", "type": "nominal",
              "scale": {"type": "band", "domain": ["H層（毎日）(n=707)","M層（週2-4日）(n=115)","L層（週1日以下）(n=166)"], "paddingInner": 0, "paddingOuter": 0},
              "axis": {"title": null, "domain": false, "ticks": false, "grid": true, "gridColor": "#222", "gridWidth": 1, "bandPosition": 0, "labelOffset": -10, "labelAlign": "left", "labelBaseline": "top", "labelPadding": -3, "labelFontSize": 8.5, "labelLineHeight": 9.5, "labelColor": "#333", "labelBound": false, "labelOverlap": false, "labelFlush": false,
                "labelExpr": "[slice(datum.label, 0, indexof(datum.label, '(n=')), ' ' + slice(datum.label, indexof(datum.label, '(n='))]"}},
            "text": {"field": "v", "type": "quantitative"}
          }
        },
        {
          "data": {"values": [{"g": "＝朝食摂取頻度別", "from": "H層（毎日）(n=707)", "to": "L層（週1日以下）(n=166)"}]},
          "mark": {"type": "rect", "fill": "#ffffff", "fillOpacity": 0, "strokeWidth": 4},
          "encoding": {
            "y": {"field": "from", "type": "nominal", "bandPosition": 0},
            "y2": {"field": "to", "bandPosition": 1},
            "stroke": {"field": "g", "type": "nominal",
              "legend": {"title": null, "orient": "none", "legendX": 354, "legendY": -13, "symbolType": "M-2.65,-1.05H2.65V1.05H-2.65Z", "symbolSize": 400, "symbolStrokeWidth": 4, "symbolFillColor": "#ffffff", "symbolOpacity": 0.6, "labelFontSize": 12, "labelColor": "#777", "labelOffset": 10, "rowPadding": -12.5, "padding": 0}}
          }
        }
      ]
    }
  ],
  "resolve": {"scale": {"x": "independent", "y": "independent", "color": "shared", "fill": "shared", "shape": "shared", "stroke": "shared"}},
  "config": {
    "font": "Noto Sans CJK JP",
    "view": {"stroke": null},
    "axis": {"labelFont": "Noto Sans CJK JP", "titleFont": "Noto Sans CJK JP", "labelOverlap": false},
    "axisY": {"labelOverlap": false},
    "axisQuantitative": {"labelOverlap": false},
    "legend": {"labelFont": "Noto Sans CJK JP", "titleFont": "Noto Sans CJK JP"},
    "title": {"font": "Noto Sans CJK JP"},
    "text": {"font": "Noto Sans CJK JP"}
  }
}
